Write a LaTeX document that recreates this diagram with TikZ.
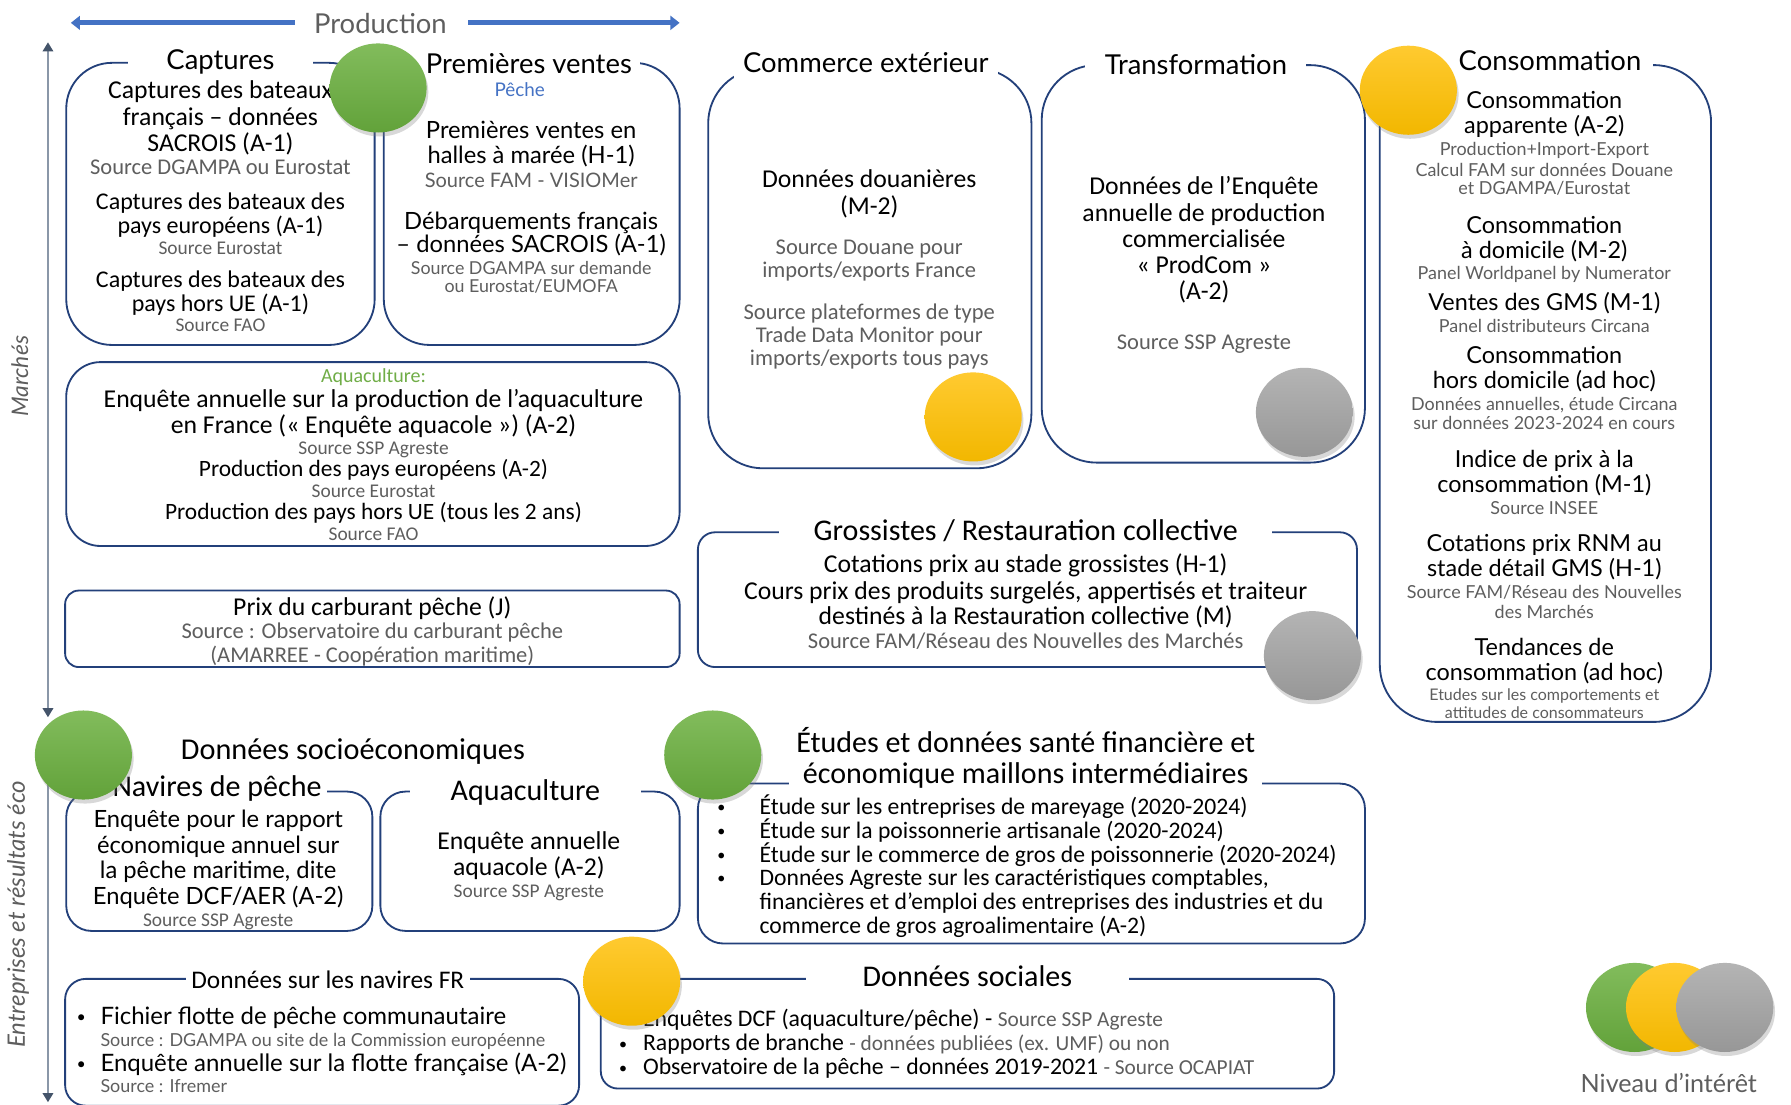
\documentclass[tikz,border=0pt]{standalone}
\usepackage{fontspec}
\setmainfont{Carlito}
\newfontfamily\mar{Lato}
\usetikzlibrary{shapes.geometric,shadows,arrows.meta}
\definecolor{navy}{HTML}{23407A}
\definecolor{barblue}{HTML}{4472C4}
\definecolor{sgray}{HTML}{5E5E5E}
\definecolor{axgray}{HTML}{8A97A8}
\definecolor{axdark}{HTML}{44546A}
\definecolor{aqgreen}{HTML}{70AD47}
\definecolor{gtop}{HTML}{82BC5C}
\definecolor{gbot}{HTML}{62A23A}
\definecolor{ytop}{HTML}{FFCA30}
\definecolor{ybot}{HTML}{F2B700}
\definecolor{rtop}{HTML}{B4B4B4}
\definecolor{rbot}{HTML}{979797}
\newcommand\smbul[1]{\makebox[#1][l]{\raisebox{1.5pt}{\fontsize{14}{14}\selectfont•}}}
\begin{document}
\begin{tikzpicture}[x=1pt,y=-1pt,
  box/.style={draw=navy, line width=1.6pt, inner sep=0pt, outer sep=0pt},
  L/.style={inner sep=0pt, outer sep=0pt, yshift=-3.5pt, execute at begin node=\strut},
  ttl/.style={L, fill=white, text=black},
  mttl/.style={ttl, font=\mar\fontsize{24}{28}\selectfont},
  cttl/.style={ttl, font=\fontsize{26.3}{30}\selectfont},
  body/.style={L, font=\fontsize{21}{24}\selectfont},
  bigb/.style={L, font=\fontsize{22.5}{25}\selectfont},
  src/.style={L, text=sgray, font=\fontsize{19.7}{22}\selectfont},
  srcs/.style={L, text=sgray, font=\fontsize{17}{20}\selectfont},
  mbody/.style={L, font=\mar\fontsize{20.5}{23}\selectfont},
  msrc/.style={L, text=sgray, font=\mar\fontsize{15.7}{18}\selectfont},
  msrcs/.style={L, text=sgray, font=\mar\fontsize{14}{16}\selectfont},
  dot/.style={ellipse, minimum width=85pt, minimum height=78pt, inner sep=0pt,
    drop shadow={shadow xshift=1.5pt, shadow yshift=-3.5pt, opacity=0.3}},
  gdot/.style={dot, top color=gtop, bottom color=gbot},
  ydot/.style={dot, top color=ytop, bottom color=ybot},
  rdot/.style={dot, top color=rtop, bottom color=rbot},
  parrow/.style={barblue, line width=4.5pt, -{Triangle[length=8pt,width=12pt]}},
  axis/.style={axgray, line width=2pt},
  bul/.style={L, anchor=west},
  ebul/.style={bul, font=\fontsize{20.7}{23}\selectfont},
  dbul/.style={bul, font=\fontsize{20.8}{23}\selectfont},
  fbul/.style={bul, font=\mar\fontsize{21}{23}\selectfont}
]
\useasboundingbox (0,0) rectangle (1568,967);
\fill[white] (0,0) rectangle (1568,967);

% ---------- top production arrow ----------
\node[L, font=\mar\fontsize{24}{28}\selectfont, text=sgray] (prod) at (333,20) {Production};
\coordinate (pA) at (62,20); \coordinate (pB) at (258,20);
\coordinate (pC) at (410,20); \coordinate (pD) at (595,20);
\draw[parrow] (pB) -- (pA);
\draw[parrow] (pC) -- (pD);

% ---------- left axes ----------
\coordinate (axA) at (42,37); \coordinate (axB) at (42,628);
\coordinate (axC) at (42,638); \coordinate (axD) at (42,965);
\draw[axis, {Triangle[length=8pt,width=9pt,color=axdark]}-{Triangle[length=8pt,width=9pt,color=axdark]}] (axB) -- (axA);
\draw[axis, -{Triangle[length=8pt,width=9pt,color=axdark]}] (axC) -- (axD);
\node[L, rotate=90, font=\mar\itshape\fontsize{20}{23}\selectfont, text=sgray] (mk) at (20,326) {Marchés};
\node[L, rotate=90, font=\mar\itshape\fontsize{21}{24}\selectfont, text=sgray] (ent) at (17,797) {Entreprises et résultats éco};

% ---------- boxes ----------
\node[box, rounded corners=40pt, minimum width=270pt, minimum height=247pt] (capbox) at (193,178.5) {};
\node[box, rounded corners=40pt, minimum width=259pt, minimum height=247pt] (pvbox) at (465.5,178.5) {};
\node[box, rounded corners=30pt, minimum width=537pt, minimum height=161pt] (aqbox) at (326.5,397.5) {};
\node[box, rounded corners=12pt, minimum width=538pt, minimum height=67pt] (carbox) at (326,550.5) {};
\node[box, rounded corners=48pt, minimum width=283pt, minimum height=350pt] (cebox) at (761.5,235) {};
\node[box, rounded corners=48pt, minimum width=283pt, minimum height=348pt] (trbox) at (1053.5,231) {};
\node[box, rounded corners=50pt, minimum width=290pt, minimum height=575pt] (cobox) at (1353,344.5) {};
\node[box, rounded corners=15pt, minimum width=577pt, minimum height=118pt] (grbox) at (899.5,525) {};
\node[box, rounded corners=22pt, minimum width=268pt, minimum height=122pt] (npbox) at (192,754) {};
\node[box, rounded corners=22pt, minimum width=262pt, minimum height=122pt] (asbox) at (464,754) {};
\node[box, rounded corners=22pt, minimum width=584pt, minimum height=140pt] (etbox) at (903,756) {};
\node[box, rounded corners=18pt, minimum width=450pt, minimum height=111pt] (nfbox) at (282,912.5) {};
\node[box, rounded corners=15pt, minimum width=642pt, minimum height=96pt] (dsbox) at (847,905) {};

% ---------- titles ----------
\node[mttl, inner xsep=34pt] (capt) at (193,52) {Captures};
\node[mttl, inner xsep=7pt] (pvt) at (463,55) {Premières ventes};
\node[mttl, inner xsep=8pt] (cet) at (758,54) {Commerce extérieur};
\node[mttl, inner xsep=17pt] (trt) at (1047,56) {Transformation};
\node[mttl, inner xsep=10pt] (cot) at (1357,53) {Consommation};
\node[cttl, inner xsep=30pt] (grt) at (898,464) {Grossistes / Restauration collective};
\node[L, font=\fontsize{26.5}{30}\selectfont] (sot) at (309,655) {Données socioéconomiques};
\node[cttl, inner xsep=5pt] (npt) at (190,688) {Navires de pêche};
\node[cttl, inner xsep=36pt] (ast) at (460,691) {Aquaculture};
\node[L, font=\fontsize{26.3}{30}\selectfont] (et1) at (898,649) {Études et données santé financière et};
\node[cttl, inner xsep=12pt] (et2) at (898,676) {économique maillons intermédiaires};
\node[cttl, inner xsep=5pt, font=\fontsize{22.2}{26}\selectfont] (nft) at (287,857) {Données sur les navires FR};
\node[cttl, inner xsep=50pt] (dst) at (847,854) {Données sociales};

% ---------- Captures ----------
\node[bigb] (c1) at (193,78) {Captures des bateaux};
\node[bigb] (c2) at (193,101) {français – données};
\node[bigb] (c3) at (193,124) {SACROIS (A-1)};
\node[src] (c4) at (193,145) {Source DGAMPA ou Eurostat};
\node[body] (c5) at (193,175) {Captures des bateaux des};
\node[body] (c6) at (193,196) {pays européens (A-1)};
\node[srcs] (c7) at (193,215) {Source Eurostat};
\node[body] (c8) at (193,243) {Captures des bateaux des};
\node[body] (c9) at (193,264) {pays hors UE (A-1)};
\node[srcs] (c10) at (193,283) {Source FAO};

% ---------- Premieres ventes ----------
\node[L, font=\mar\fontsize{16.5}{19}\selectfont, text=barblue] (p0) at (455,77) {Pêche};
\node[mbody, font=\mar\fontsize{20.8}{23}\selectfont] (p1) at (465,113) {Premières ventes en};
\node[mbody, font=\mar\fontsize{20.8}{23}\selectfont] (p2) at (465,135) {halles à marée (H-1)};
\node[msrc, font=\mar\fontsize{17.5}{20}\selectfont] (p3) at (465,157) {Source FAM - VISIOMer};
\node[mbody, font=\mar\fontsize{20.8}{23}\selectfont] (p4) at (465,193) {Débarquements français};
\node[mbody, font=\mar\fontsize{20.8}{23}\selectfont] (p5) at (465,213) {– données SACROIS (A-1)};
\node[msrc, font=\mar\fontsize{15.6}{18}\selectfont] (p6) at (465,233) {Source DGAMPA sur demande};
\node[msrc, font=\mar\fontsize{15.6}{18}\selectfont] (p7) at (465,249) {ou Eurostat/EUMOFA};

% ---------- Aquaculture ----------
\node[L, font=\fontsize{17.5}{20}\selectfont, text=aqgreen] (a0) at (327,327) {Aquaculture:};
\node[bigb] (a1) at (327,348) {Enquête annuelle sur la production de l’aquaculture};
\node[bigb] (a2) at (327,371) {en France (« Enquête aquacole ») (A-2)};
\node[srcs] (a3) at (327,390) {Source SSP Agreste};
\node[L, font=\fontsize{20.5}{23}\selectfont] (a4) at (327,409) {Production des pays européens (A-2)};
\node[srcs] (a5) at (327,428) {Source Eurostat};
\node[L, font=\fontsize{20.5}{23}\selectfont] (a6) at (327,447) {Production des pays hors UE (tous les 2 ans)};
\node[srcs] (a7) at (327,466) {Source FAO};

% ---------- Carburant ----------
\node[bigb] (k1) at (326,530) {Prix du carburant pêche (J)};
\node[src] (k2) at (326,551) {Source : Observatoire du carburant pêche};
\node[src] (k3) at (326,572) {(AMARREE - Coopération maritime)};

% ---------- Commerce exterieur ----------
\node[bigb] (e1) at (761,156) {Données douanières};
\node[bigb] (e2) at (761,179) {(M-2)};
\node[src] (e3) at (761,215) {Source Douane pour};
\node[src] (e4) at (761,235) {imports/exports France};
\node[src] (e5) at (761,272) {Source plateformes de type};
\node[src] (e6) at (761,292) {Trade Data Monitor pour};
\node[src] (e7) at (761,312) {imports/exports tous pays};

% ---------- Transformation ----------
\node[bigb] (t1) at (1054,162) {Données de l’Enquête};
\node[bigb] (t2) at (1054,185) {annuelle de production};
\node[bigb] (t3) at (1054,208) {commercialisée};
\node[bigb] (t4) at (1054,231) {« ProdCom »};
\node[bigb] (t5) at (1054,254) {(A-2)};
\node[src] (t6) at (1054,298) {Source SSP Agreste};

% ---------- Consommation ----------
\node[mbody] (o1) at (1352,87) {Consommation};
\node[mbody] (o2) at (1352,109) {apparente (A-2)};
\node[msrc] (o3) at (1352,129) {Production+Import-Export};
\node[msrc] (o4) at (1352,147) {Calcul FAM sur données Douane};
\node[msrc] (o5) at (1352,163) {et DGAMPA/Eurostat};
\node[mbody] (o6) at (1352,196) {Consommation};
\node[mbody] (o7) at (1352,218) {à domicile (M-2)};
\node[msrc] (o8) at (1352,238) {Panel Worldpanel by Numerator};
\node[mbody] (o9) at (1352,264) {Ventes des GMS (M-1)};
\node[msrc] (o10) at (1352,284) {Panel distributeurs Circana};
\node[mbody] (o11) at (1352,310) {Consommation};
\node[mbody] (o12) at (1352,332) {hors domicile (ad hoc)};
\node[msrc] (o13) at (1352,352) {Données annuelles, étude Circana};
\node[msrc] (o14) at (1352,369) {sur données 2023-2024 en cours};
\node[mbody] (o15) at (1352,401) {Indice de prix à la};
\node[mbody] (o16) at (1352,423) {consommation (M-1)};
\node[msrc] (o17) at (1352,443) {Source INSEE};
\node[mbody] (o18) at (1352,475) {Cotations prix RNM au};
\node[mbody] (o19) at (1352,497) {stade détail GMS (H-1)};
\node[msrc] (o20) at (1352,517) {Source FAM/Réseau des Nouvelles};
\node[msrc] (o21) at (1352,534) {des Marchés};
\node[mbody] (o22) at (1352,566) {Tendances de};
\node[mbody] (o23) at (1352,588) {consommation (ad hoc)};
\node[msrcs] (o24) at (1352,607) {Etudes sur les comportements et};
\node[msrcs] (o25) at (1352,622) {attitudes de consommateurs};

% ---------- Grossistes ----------
\node[bigb] (r1) at (898,493) {Cotations prix au stade grossistes (H-1)};
\node[bigb] (r2) at (898,516) {Cours prix des produits surgelés, appertisés et traiteur};
\node[bigb] (r3) at (898,538) {destinés à la Restauration collective (M)};
\node[src] (r4) at (898,560) {Source FAM/Réseau des Nouvelles des Marchés};

% ---------- Navires de peche ----------
\node[mbody, font=\mar\fontsize{20.8}{23}\selectfont] (n1) at (191,716) {Enquête pour le rapport};
\node[mbody, font=\mar\fontsize{20.8}{23}\selectfont] (n2) at (191,739) {économique annuel sur};
\node[mbody, font=\mar\fontsize{20.8}{23}\selectfont] (n3) at (191,761) {la pêche maritime, dite};
\node[mbody, font=\mar\fontsize{20.8}{23}\selectfont] (n4) at (191,784) {Enquête DCF/AER (A-2)};
\node[srcs] (n5) at (191,804) {Source SSP Agreste};

% ---------- Aquaculture socio ----------
\node[bigb] (s1) at (463,735) {Enquête annuelle};
\node[bigb] (s2) at (463,758) {aquacole (A-2)};
\node[srcs] (s3) at (463,778) {Source SSP Agreste};

% ---------- Etudes ----------
\node[ebul] (u1) at (628,704) {\smbul{37pt}Étude sur les entreprises de mareyage (2020-2024)};
\node[ebul] (u2) at (628,725) {\smbul{37pt}Étude sur la poissonnerie artisanale (2020-2024)};
\node[ebul] (u3) at (628,746) {\smbul{37pt}Étude sur le commerce de gros de poissonnerie (2020-2024)};
\node[ebul] (u4) at (628,767) {\smbul{37pt}Données Agreste sur les caractéristiques comptables,};
\node[ebul] (u5) at (665,788) {financières et d’emploi des entreprises des industries et du};
\node[ebul] (u6) at (665,809) {commerce de gros agroalimentaire (A-2)};

% ---------- Navires FR ----------
\node[fbul] (f1) at (67,889) {\smbul{21pt}Fichier flotte de pêche communautaire};
\node[bul, font=\mar\fontsize{15.7}{18}\selectfont, text=sgray] (f2) at (88,909) {Source : DGAMPA ou site de la Commission européenne};
\node[fbul] (f3) at (67,930) {\smbul{21pt}Enquête annuelle sur la flotte française (A-2)};
\node[bul, font=\mar\fontsize{15.7}{18}\selectfont, text=sgray] (f4) at (88,949) {Source : Ifremer};

% ---------- Donnees sociales ----------
\node[dbul] (d1) at (542,891) {\smbul{21pt}Enquêtes DCF (aquaculture/pêche) - {\color{sgray}\fontsize{18.7}{21}\selectfont Source SSP Agreste}};
\node[dbul] (d2) at (542,912) {\smbul{21pt}Rapports de branche {\color{sgray}\fontsize{18.7}{21}\selectfont - données publiées (ex. UMF) ou non}};
\node[dbul] (d3) at (542,933) {\smbul{21pt}Observatoire de la pêche – données 2019-2021 {\color{sgray}\fontsize{18.7}{21}\selectfont - Source OCAPIAT}};

% ---------- interest dots ----------
\node[gdot] (g1) at (331,77) {};
\node[ydot] (y1) at (852,365) {};
\node[rdot] (r1d) at (1142,361) {};
\node[ydot] (y2) at (1233,79) {};
\node[rdot] (r2d) at (1149,574) {};
\node[gdot] (g2) at (73,661) {};
\node[gdot] (g3) at (624,661) {};
\node[ydot] (y3) at (553,859) {};

% ---------- legend ----------
\node[gdot] (lg) at (1431,882) {};
\node[ydot] (ly) at (1466,882) {};
\node[rdot] (lr) at (1510,882) {};
\node[L, font=\mar\fontsize{22}{26}\selectfont, text=sgray] (niv) at (1461,948) {Niveau d’intérêt};
\end{tikzpicture}
\end{document}
